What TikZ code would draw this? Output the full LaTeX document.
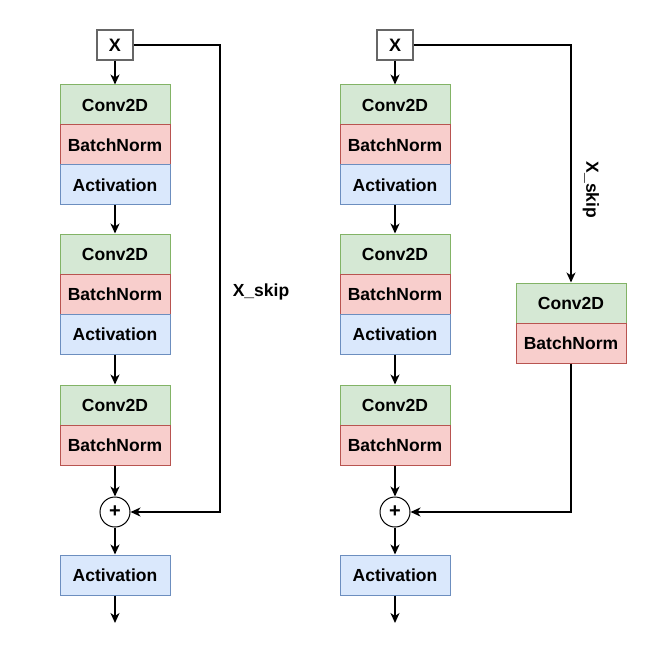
\documentclass[tikz,border=0pt]{standalone}
\usepackage{fontspec}
\setmainfont{Liberation Sans}
\usetikzlibrary{arrows.meta}
\definecolor{gfill}{HTML}{D5E8D4}\definecolor{gdraw}{HTML}{82B366}
\definecolor{rfill}{HTML}{F8CECC}\definecolor{rdraw}{HTML}{B85450}
\definecolor{bfill}{HTML}{DAE8FC}\definecolor{bdraw}{HTML}{6C8EBF}
\definecolor{xdraw}{HTML}{666666}
\tikzset{
  blk/.style={minimum width=110pt,minimum height=40pt,inner sep=0pt,font=\fontsize{17.5pt}{19pt}\selectfont\bfseries,line width=1pt},
  conv/.style={blk,fill=gfill,draw=gdraw},
  bn/.style={blk,fill=rfill,draw=rdraw},
  act/.style={blk,fill=bfill,draw=bdraw},
  xbox/.style={draw=xdraw,fill=white,line width=1.2pt,minimum width=36pt,minimum height=30pt,inner sep=0pt,font=\fontsize{18pt}{19pt}\selectfont\bfseries},
  addc/.style={circle,draw,fill=white,line width=1pt,minimum size=30pt,inner sep=0pt,font=\fontsize{20pt}{20pt}\selectfont\bfseries},
  conn/.style={line width=2pt,-{Stealth[length=10pt,width=9pt,inset=3pt]}},
  lbl/.style={font=\fontsize{17.5pt}{19pt}\selectfont\bfseries},
}
\begin{document}
\begin{tikzpicture}[x=1pt,y=-1pt]
\useasboundingbox (0,0) rectangle (660,644);
% left column
\node[xbox] (x1) at (115,45) {X};
\node[conv] (c11) at (115,105) {Conv2D};
\node[bn] (b11) at (115,145) {BatchNorm};
\node[act] (a11) at (115,185) {Activation};
\node[conv] (c12) at (115,254) {Conv2D};
\node[bn] (b12) at (115,294) {BatchNorm};
\node[act] (a12) at (115,334) {Activation};
\node[conv] (c13) at (115,405) {Conv2D};
\node[bn] (b13) at (115,445) {BatchNorm};
\node[addc] (p1) at (115,512) {+};
\node[act] (a13) at (115,575) {Activation};
\coordinate (e1) at (115,623);
\coordinate (k1) at (220,45);
\coordinate (k2) at (220,512);
\draw[conn] (x1) -- (c11);
\draw[conn] (a11) -- (c12);
\draw[conn] (a12) -- (c13);
\draw[conn] (b13) -- (p1);
\draw[conn] (p1) -- (a13);
\draw[conn] (a13) -- (e1);
\draw[conn] (x1.east) -- (k1) -- (k2) -- (p1.east);
\node[lbl] (l1) at (261,292) {X\_skip};
% right column
\node[xbox] (x2) at (395,45) {X};
\node[conv] (c21) at (395,105) {Conv2D};
\node[bn] (b21) at (395,145) {BatchNorm};
\node[act] (a21) at (395,185) {Activation};
\node[conv] (c22) at (395,254) {Conv2D};
\node[bn] (b22) at (395,294) {BatchNorm};
\node[act] (a22) at (395,334) {Activation};
\node[conv] (c23) at (395,405) {Conv2D};
\node[bn] (b23) at (395,445) {BatchNorm};
\node[addc] (p2) at (395,512) {+};
\node[act] (a23) at (395,575) {Activation};
\coordinate (e2) at (395,623);
\node[conv] (sc) at (571,303) {Conv2D};
\node[bn] (sb) at (571,343) {BatchNorm};
\coordinate (m1) at (571,45);
\coordinate (m2) at (571,512);
\draw[conn] (x2) -- (c21);
\draw[conn] (a21) -- (c22);
\draw[conn] (a22) -- (c23);
\draw[conn] (b23) -- (p2);
\draw[conn] (p2) -- (a23);
\draw[conn] (a23) -- (e2);
\draw[conn] (x2.east) -- (m1) -- (sc.north);
\draw[conn] (sb.south) -- (m2) -- (p2.east);
\node[lbl,rotate=-90] (l2) at (591,190) {X\_skip};
\end{tikzpicture}
\end{document}
